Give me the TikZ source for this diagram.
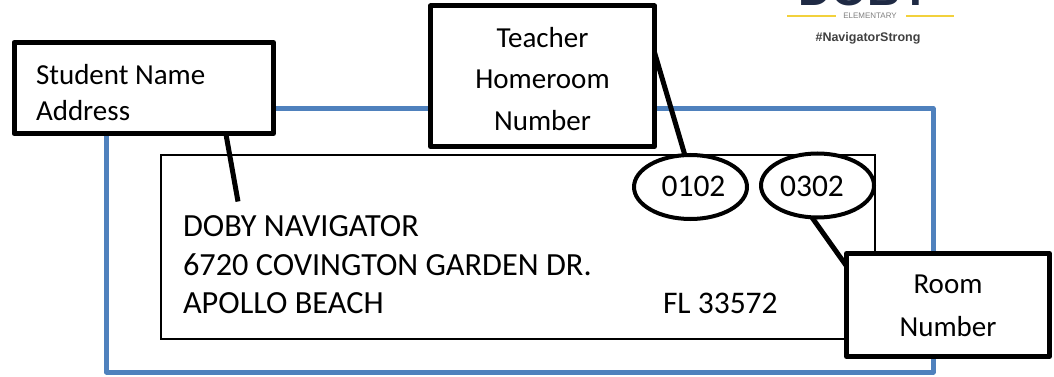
\documentclass[tikz,border=0pt]{standalone}
\usepackage{fontspec}
\usetikzlibrary{shapes.geometric}
\setmainfont{Carlito}
\newfontfamily\logofont{Liberation Sans}
\definecolor{frameblue}{HTML}{4F81BD}
\definecolor{logonavy}{HTML}{1F2A44}
\definecolor{logoyellow}{HTML}{F2D13C}
\newcommand{\toppad}[3]{\parbox{#2}{\vspace*{#1}#3}}
\tikzset{
  x=1pt,y=-1pt,
  callout/.style={draw=black,line width=5pt,fill=white,rectangle,inner sep=0pt,outer sep=0pt,line join=round},
  tag/.style={draw=black,line width=4pt,fill=white,ellipse,inner sep=0pt,outer sep=0pt,minimum width=113pt,minimum height=64pt,font=\fontsize{31.5}{34}\selectfont},
  leader/.style={draw=black,line width=5pt},
  addr/.style={font=\fontsize{32.3}{39}\selectfont,inner sep=0pt,outer sep=0pt,anchor=west}
}
\begin{document}
\begin{tikzpicture}
\path[use as bounding box] (0,0) rectangle (1054,377);
\clip (0,0) rectangle (1054,377);
\fill[white] (0,0) rectangle (1054,377);
% logo
\node[font=\logofont\bfseries\fontsize{46}{46}\selectfont,text=logonavy,inner sep=0pt] (doby) at (865,-10) {DOBY};
\node[font=\logofont\fontsize{8}{8}\selectfont,text=gray,inner sep=0pt] (elem) at (870,16) {ELEMENTARY};
\node[font=\logofont\bfseries\fontsize{12.5}{13}\selectfont,text=black!75,inner sep=0pt] (hash) at (868,38) {\#NavigatorStrong};
\coordinate (ya) at (787,16); \coordinate (yb) at (836,16);
\coordinate (yc) at (906,16); \coordinate (yd) at (954,16);
\draw[logoyellow,line width=1.2pt] (ya) -- (yb) (yc) -- (yd);
% frames
\draw[frameblue,line width=5pt,line join=round] (106.5,108.5) rectangle (933,372);
\node[draw=black,line width=1.5pt,fill=white,rectangle,inner sep=0pt,outer sep=0pt,minimum width=714pt,minimum height=184pt] (card) at (518,247) {};
\node[addr] (l1) at (183,226) {DOBY NAVIGATOR};
\node[addr] (l2) at (183,264.5) {6720 COVINGTON GARDEN DR.};
\node[addr] (l3) at (183,303.5) {APOLLO BEACH};
\node[addr,font=\fontsize{31.5}{39}\selectfont] (zip) at (663,303) {FL 33572};
% tags
\node[tag] (t1) at (690.5,187) {\hspace*{6pt}\rule[-2pt]{0pt}{1pt}0102};
\node[tag] (t2) at (817.5,185.5) {\hspace*{-11pt}\rule{0pt}{22pt}0302};
% callouts
\coordinate (studentend) at (238,201.5);
\node[callout,minimum width=259.5pt,minimum height=91pt,font=\fontsize{29}{36}\selectfont] (student) at (143.75,88) {\toppad{9pt}{215.5pt}{\raggedright Student Name\\Address}};
\node[callout,minimum width=224pt,minimum height=140.5pt,font=\fontsize{29}{41.5}\selectfont] (teacher) at (542.5,76.25) {\toppad{5pt}{200pt}{\centering Teacher\\Homeroom\\Number}};
\node[callout,minimum width=203pt,minimum height=103pt,font=\fontsize{29}{43}\selectfont] (room) at (948,305) {\toppad{1pt}{190pt}{\centering Room\\Number}};
\draw[leader] (student.-29.2) -- (studentend);
\draw[leader] (teacher.12.7) -- (t1.100.8);
\draw[leader] (t2.-100) -- (room.159.5);
\end{tikzpicture}
\end{document}
